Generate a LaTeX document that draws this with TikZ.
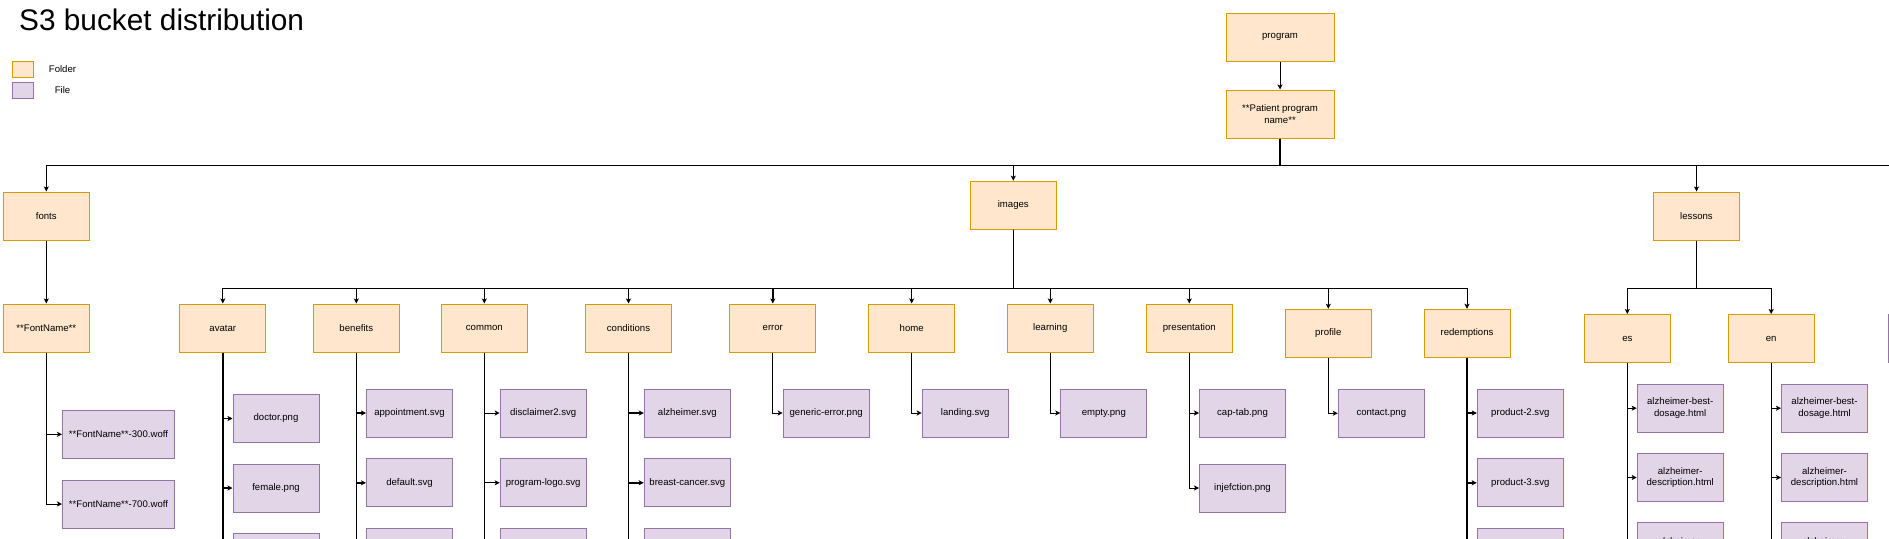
\documentclass[tikz,border=0pt]{standalone}
\usepackage{fontspec}
\setmainfont{Liberation Sans}
\usetikzlibrary{arrows.meta}
\definecolor{foldfill}{HTML}{FFE6CC}
\definecolor{foldline}{HTML}{D79B00}
\definecolor{filefill}{HTML}{E1D5E7}
\definecolor{fileline}{HTML}{9673A6}
\tikzset{
  box/.style={draw, line width=1pt, inner sep=0pt, minimum height=48pt, align=center,
    font=\fontsize{9.6}{11.5}\selectfont},
  folder/.style={box, fill=foldfill, draw=foldline, minimum width=86pt},
  filebox/.style={box, fill=filefill, draw=fileline, minimum width=86pt},
  legendbox/.style={minimum width=21pt, minimum height=16pt},
  legendtext/.style={inner sep=0pt, font=\fontsize{9.6}{11.5}\selectfont},
  conn/.style={draw=black, line width=1pt, -{Stealth[length=5pt,width=5pt,inset=1.2pt]}},
  trunk/.style={conn, line width=1.4pt}
}
\begin{document}
\begin{tikzpicture}[x=1pt,y=-1pt]
\useasboundingbox (0,0) rectangle (1889,538);
\clip (0,0) rectangle (1889,538);

% title and legend
\node[anchor=base west, inner sep=0pt, font=\fontsize{29.8}{34}\selectfont] (title) at (19,30.5) {S3 bucket distribution};
\node[folder, legendbox] (lgfold) at (22.5,69) {};
\node[filebox, legendbox] (lgfile) at (22.5,90.5) {};
\node[legendtext] (lgfoldt) at (62.5,69) {Folder};
\node[legendtext] (lgfilet) at (62.5,90) {File};

% root
\node[folder, minimum width=108pt] (program) at (1280,37) {program};
\node[folder, minimum width=108pt] (patient) at (1280,114) {**Patient program\\name**};
\coordinate (offright) at (1960,230);

% level 1
\node[folder] (fonts) at (46.3,216) {fonts};
\node[folder] (images) at (1013.3,205.2) {images};
\node[folder] (lessons) at (1696.5,216) {lessons};

% fonts
\node[folder] (fontname) at (46.3,328) {**FontName**};
\node[filebox, minimum width=112pt] (fw300) at (118.5,434.3) {**FontName**-300.woff};
\node[filebox, minimum width=112pt] (fw700) at (118.5,504) {**FontName**-700.woff};

% images children
\node[folder] (avatar) at (222.8,328) {avatar};
\node[folder] (benefits) at (356.3,328) {benefits};
\node[folder] (common) at (484.3,328) {common};
\node[folder] (conditions) at (628.5,328) {conditions};
\node[folder] (error) at (772.8,328) {error};
\node[folder] (home) at (911.7,328) {home};
\node[folder] (learning) at (1050.3,328) {learning};
\node[folder] (presentation) at (1189.3,328) {presentation};
\node[folder] (profile) at (1328.3,333.3) {profile};
\node[folder] (redemptions) at (1467,333.3) {redemptions};

% files of images folders
\node[filebox] (doctor) at (276,418.5) {doctor.png};
\node[filebox] (female) at (276,488) {female.png};
\node[filebox] (avatarc) at (276,557) {};
\node[filebox] (appointment) at (409.5,413) {appointment.svg};
\node[filebox] (default) at (409.5,482.8) {default.svg};
\node[filebox] (benefitsc) at (409.5,552) {};
\node[filebox] (disclaimer) at (543.2,413) {disclaimer2.svg};
\node[filebox] (proglogo) at (543.2,482.8) {program-logo.svg};
\node[filebox] (commonc) at (543.2,552) {};
\node[filebox] (alzsvg) at (687.3,413) {alzheimer.svg};
\node[filebox] (breast) at (687.3,482.8) {breast-cancer.svg};
\node[filebox] (condc) at (687.3,552) {};
\node[filebox] (generic) at (826.2,413) {generic-error.png};
\node[filebox] (landing) at (965.2,413) {landing.svg};
\node[filebox] (empty) at (1103.8,413) {empty.png};
\node[filebox] (captab) at (1242.5,413) {cap-tab.png};
\node[filebox] (injection) at (1242.5,488) {injefction.png};
\node[filebox] (contact) at (1381.3,413.3) {contact.png};
\node[filebox] (product2) at (1520.3,413) {product-2.svg};
\node[filebox] (product3) at (1520.3,482.8) {product-3.svg};
\node[filebox] (redc) at (1520.3,552) {};

% lessons
\node[folder] (es) at (1627.3,338.5) {es};
\node[folder] (en) at (1771.2,338.5) {en};
\node[filebox] (esbest) at (1680.2,408.2) {alzheimer-best-\\dosage.html};
\node[filebox] (esdesc) at (1680.2,477.5) {alzheimer-\\description.html};
\node[filebox] (esc) at (1680.2,546.9) {alzheimer-\\\phantom{x}};
\node[filebox] (enbest) at (1824.5,408.2) {alzheimer-best-\\dosage.html};
\node[filebox] (endesc) at (1824.5,477.5) {alzheimer-\\description.html};
\node[filebox] (enc) at (1824.5,546.9) {alzheimer-\\\phantom{x}};
\node[filebox] (rsliver) at (1931,338.5) {};

% connectors
\draw[conn] (program) -- (patient);
\foreach \c/\s in {fonts/conn,images/conn,lessons/trunk}
  \draw[\s] (patient.south) -- ++(0,27) -| (\c.north);
\draw[trunk, -] (patient.south) -- ++(0,27) -| (offright);
\draw[conn] (fonts) -- (fontname);
\foreach \c in {fw300,fw700}
  \draw[conn] (fontname.south) |- (\c.west);
\foreach \c/\s in {avatar/conn,benefits/trunk,common/trunk,conditions/trunk,error/trunk,home/trunk,
    learning/trunk,presentation/trunk,profile/conn,redemptions/conn}
  \draw[\s] (images.south) -- ++(0,58.5) -| (\c.north);
\foreach \c in {es,en}
  \draw[conn] (lessons.south) -- ++(0,47.7) -| (\c.north);
\foreach \p/\c/\s in {avatar/doctor/trunk, avatar/female/trunk, avatar/avatarc/trunk,
    benefits/appointment/trunk, benefits/default/trunk, benefits/benefitsc/trunk,
    common/disclaimer/conn, common/proglogo/conn, common/commonc/conn,
    conditions/alzsvg/trunk, conditions/breast/trunk, conditions/condc/trunk,
    error/generic/conn, home/landing/conn, learning/empty/conn,
    presentation/captab/conn, presentation/injection/conn, profile/contact/conn,
    redemptions/product2/trunk, redemptions/product3/trunk, redemptions/redc/trunk,
    es/esbest/trunk, es/esdesc/trunk, es/esc/trunk,
    en/enbest/trunk, en/endesc/trunk, en/enc/trunk}
  \draw[\s] (\p.south) |- (\c.west);
\end{tikzpicture}
\end{document}
